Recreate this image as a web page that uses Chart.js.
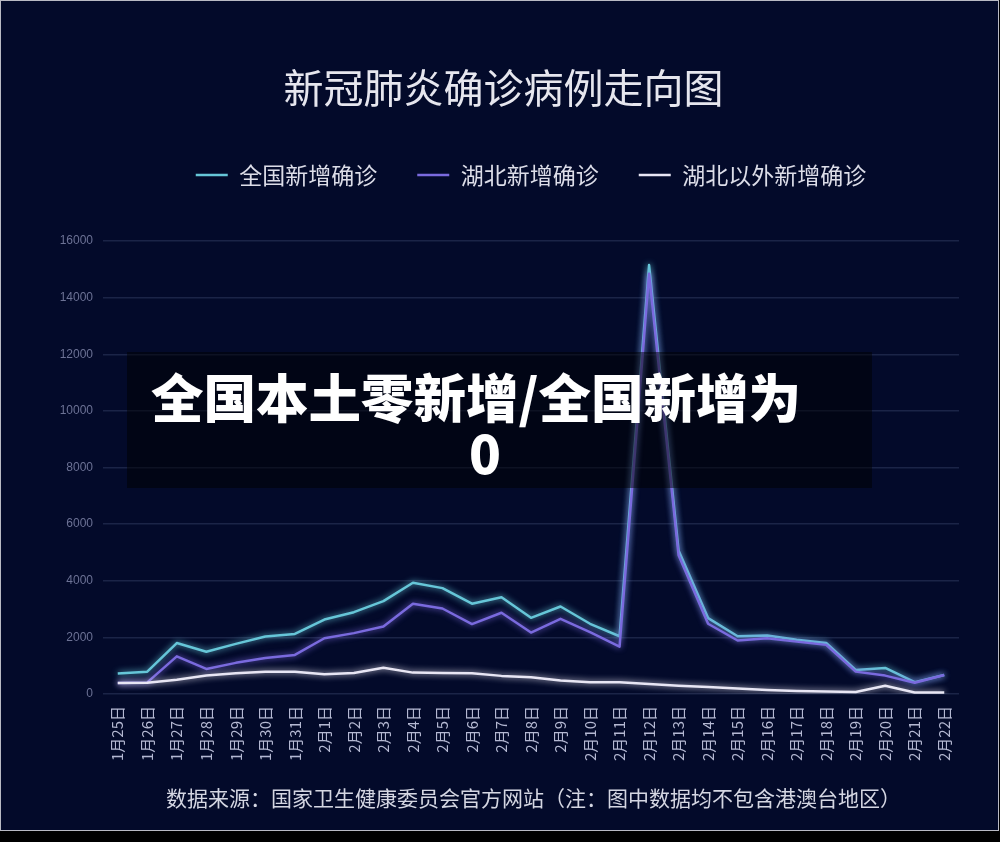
<!DOCTYPE html>
<html><head><meta charset="utf-8">
<script src="https://cdn.jsdelivr.net/npm/chart.js@4.4.1/dist/chart.umd.min.js"></script>
<style>
html,body{margin:0;padding:0;background:#000;width:1000px;height:842px;overflow:hidden;}
#frame{position:absolute;left:0;top:0;width:997px;height:829px;border:1px solid #b9bac4;background:#030a2a;}
#c{position:absolute;left:0;top:0;}
#overlay{position:absolute;left:127px;top:352px;width:745px;height:136px;background:rgba(0,0,0,0.5);}
#headline{position:absolute;left:160px;top:367px;width:650px;text-align:center;text-indent:-18px;color:#fff;font:900 52.5px/56px "Noto Sans CJK SC";word-break:break-all;}
#footer{position:absolute;left:166px;top:787px;font:21px/21px "Noto Sans CJK SC";color:#d4d6e2;white-space:nowrap;}
</style></head><body>
<div id="frame"></div>
<canvas id="c" width="1000" height="842"></canvas>
<div id="overlay"></div>
<div id="headline">全国本土零新增/全国新增为0</div>
<div id="footer">数据来源：国家卫生健康委员会官方网站（注：图中数据均不包含港澳台地区）</div>
<script>
const labels = ['1月25日','1月26日','1月27日','1月28日','1月29日','1月30日','1月31日',
  '2月1日','2月2日','2月3日','2月4日','2月5日','2月6日','2月7日','2月8日','2月9日','2月10日',
  '2月11日','2月12日','2月13日','2月14日','2月15日','2月16日','2月17日','2月18日','2月19日',
  '2月20日','2月21日','2月22日'];
const national = [720, 790, 1800, 1490, 1770, 2030, 2120, 2630, 2890, 3280, 3930, 3740, 3190, 3420, 2690,
  3090, 2480, 2040, 15150, 5070, 2680, 2040, 2065, 1920, 1800, 850, 920, 420, 670];
const hubei = [390, 410, 1330, 885, 1100, 1275, 1380, 1970, 2150, 2385, 3190, 3020, 2470, 2870, 2170,
  2655, 2185, 1675, 14840, 4900, 2480, 1890, 1970, 1850, 1735, 790, 650, 400, 670];
const outside = [390, 400, 505, 650, 730, 790, 790, 700, 745, 930, 755, 745, 735, 640, 590,
  475, 415, 415, 355, 295, 250, 190, 145, 105, 85, 70, 290, 50, 50];
const seriesNames = ['全国新增确诊', '湖北新增确诊', '湖北以外新增确诊'];
const seriesColors = ['#66c6d8', '#7a6ade', '#e8e6f4'];
const drawOrder = [2, 1, 0];
const yMin = 0, yMax = 16000, yStep = 2000;

const CJK = '"Noto Sans CJK SC", "Noto Sans", sans-serif';

const glow = {
  id: 'glow',
  beforeDatasetDraw(chart, args) {
    const ctx = chart.ctx;
    ctx.save();
    ctx.shadowColor = chart.data.datasets[args.index].borderColor;
    ctx.shadowBlur = 6;
  },
  afterDatasetDraw(chart) { chart.ctx.restore(); }
};

const seriesData = [national, hubei, outside];
new Chart(document.getElementById('c'), {
  type: 'line',
  data: {
    labels: labels,
    datasets: seriesData.map((d, i) => ({
      label: seriesNames[i],
      data: d,
      order: drawOrder[i],
      borderColor: seriesColors[i],
      backgroundColor: seriesColors[i],
      borderWidth: 2.5,
      pointRadius: 0,
      tension: 0,
      borderJoinStyle: 'round',
      fill: false
    }))
  },
  options: {
    responsive: false,
    animation: false,
    layout: { padding: { left: 48, right: 41, top: 0, bottom: 0 } },
    plugins: {
      title: {
        display: true, text: '新冠肺炎确诊病例走向图', color: '#e6e6ee',
        font: { family: CJK, size: 40, weight: 'normal', lineHeight: 1.2 },
        padding: { top: 64, bottom: 11.5 }
      },
      subtitle: { display: true, text: '', weight: 500, padding: 0, font: { size: 44.5, lineHeight: 1 } },
      legend: {
        display: true, position: 'top', fullSize: false,
        labels: {
          usePointStyle: true, pointStyle: 'line', pointStyleWidth: 32, padding: 40,
          color: '#dcdde8', font: { family: CJK, size: 23 },
          sort: (a, b) => a.datasetIndex - b.datasetIndex
        }
      },
      tooltip: { enabled: false }
    },
    scales: {
      x: {
        offset: true,
        grid: { display: false, drawTicks: false },
        border: { display: false },
        ticks: { autoSkip: false, maxRotation: 90, minRotation: 90, padding: 12, color: '#b4b8d2',
          font: { family: CJK, size: 15 } },
        afterFit(s) { s.height = 148; }
      },
      y: {
        min: yMin, max: yMax,
        ticks: { stepSize: yStep, padding: 10, color: '#6c7295', format: { useGrouping: false },
          font: { family: '"Liberation Sans"', size: 12 } },
        grid: { color: '#1b2447', lineWidth: 1.5, drawTicks: false },
        border: { display: false },
        afterFit(s) { s.width = 55; }
      }
    }
  },
  plugins: [glow]
});
</script>
</body></html>
